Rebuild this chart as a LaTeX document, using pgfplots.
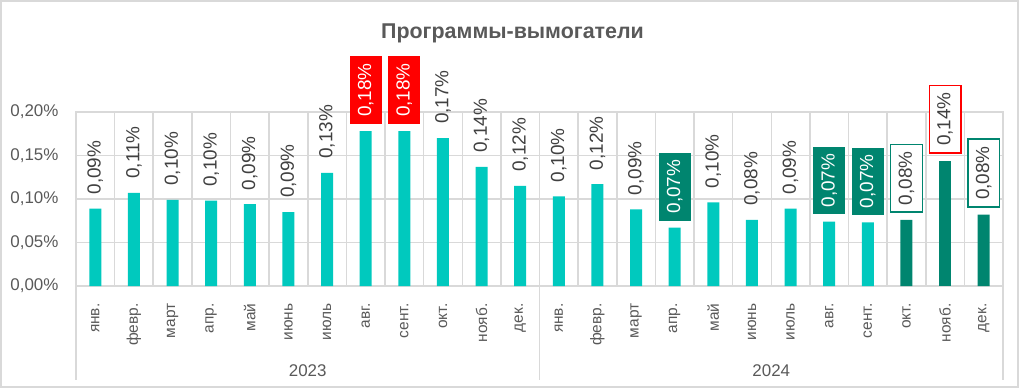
\documentclass[border=0pt]{standalone}
\usepackage{pgfplots}
\pgfplotsset{compat=1.18}
\usepackage{fontspec}
\setmainfont{Liberation Sans}
\definecolor{teal1}{HTML}{00C9BE}
\definecolor{dk}{HTML}{00856F}
\definecolor{gridc}{HTML}{D9D9D9}
\definecolor{txt}{HTML}{404040}
\definecolor{lab}{HTML}{595959}
\definecolor{rd}{HTML}{FF0000}
\begin{document}
\begin{tikzpicture}
\useasboundingbox (-76bp,-102bp) rectangle (943bp,286bp);
\draw[gridc, line width=2.5bp] (-75bp,-101bp) rectangle (942bp,285bp);
\begin{axis}[
  scale only axis,
  width=927bp, height=174bp,
  xmin=-0.5, xmax=23.5, ymin=0, ymax=0.2,
  clip=false,
  ybar, bar width=12bp, bar shift=0pt,
  axis line style={gridc, line width=1.5bp},
  ymajorgrids, major grid style={gridc, line width=1.5bp},
  xminorgrids, minor grid style={gridc, line width=1.5bp},
  minor xtick={-0.5,0.5,...,23.5},
  major tick length=0pt, minor tick length=0pt,
  ytick={0,0.05,0.1,0.15,0.2},
  yticklabels={{0,00\%},{0,05\%},{0,10\%},{0,15\%},{0,20\%}},
  yticklabel style={font=\fontsize{17}{17}\selectfont, text=lab, anchor=east},
  yticklabel shift=14bp,
  xtick={0,...,23},
  xticklabels={янв.,февр.,март,апр.,май,июнь,июль,авг.,сент.,окт.,нояб.,дек.,янв.,февр.,март,апр.,май,июнь,июль,авг.,сент.,окт.,нояб.,дек.},
  xticklabel style={font=\fontsize{15.5}{15.5}\selectfont, text=lab, rotate=90, anchor=east},
  xticklabel shift=14bp,
  nodes near coords={\pgfplotspointmeta\%},
  point meta=explicit symbolic,
  every node near coord/.append style={font=\fontsize{19}{19}\selectfont, text=txt, yshift=7bp, rotate=90, anchor=west, inner xsep=7bp, inner ysep=8bp},
]
% plain teal
\addplot[fill=teal1, draw=none] coordinates {
(0,0.089) [0,09] (1,0.107) [0,11] (2,0.099) [0,10] (3,0.098) [0,10]
(4,0.094) [0,09] (5,0.085) [0,09] (6,0.130) [0,13] (9,0.170) [0,17]
(10,0.137) [0,14] (11,0.115) [0,12] (12,0.103) [0,10] (13,0.117) [0,12]
(14,0.088) [0,09] (16,0.096) [0,10] (17,0.076) [0,08] (18,0.089) [0,09]
};
% teal with red filled label
\addplot[fill=teal1, draw=none, every node near coord/.append style={fill=rd, text=white}] coordinates {
(7,0.178) [0,18] (8,0.178) [0,18]
};
% teal with dark filled label
\addplot[fill=teal1, draw=none, every node near coord/.append style={fill=dk, text=white}] coordinates {
(15,0.067) [0,07] (19,0.074) [0,07] (20,0.073) [0,07]
};
% dark with dark outline label
\addplot[fill=dk, draw=none, every node near coord/.append style={draw=dk, line width=1.5bp, fill=white}] coordinates {
(21,0.076) [0,08] (23,0.082) [0,08]
};
% dark with red outline label
\addplot[fill=dk, draw=none, every node near coord/.append style={draw=rd, line width=1.5bp, fill=white}] coordinates {
(22,0.144) [0,14]
};
\draw[gridc, line width=1.5bp] (axis cs:-0.5,0) -- ([yshift=-94bp]axis cs:-0.5,0);
\draw[gridc, line width=1.5bp] (axis cs:11.5,0) -- ([yshift=-94bp]axis cs:11.5,0);
\draw[gridc, line width=1.5bp] (axis cs:23.5,0) -- ([yshift=-94bp]axis cs:23.5,0);
\node[font=\fontsize{17}{17}\selectfont, text=lab] at ([yshift=-85bp]axis cs:5.5,0) {2023};
\node[font=\fontsize{17}{17}\selectfont, text=lab] at ([yshift=-85bp]axis cs:17.5,0) {2024};
\node[font=\bfseries\fontsize{21.5}{21.5}\selectfont, text=lab] at ([xshift=-27bp,yshift=253bp]axis cs:11.5,0) {Программы-вымогатели};
\end{axis}
\end{tikzpicture}
\end{document}
